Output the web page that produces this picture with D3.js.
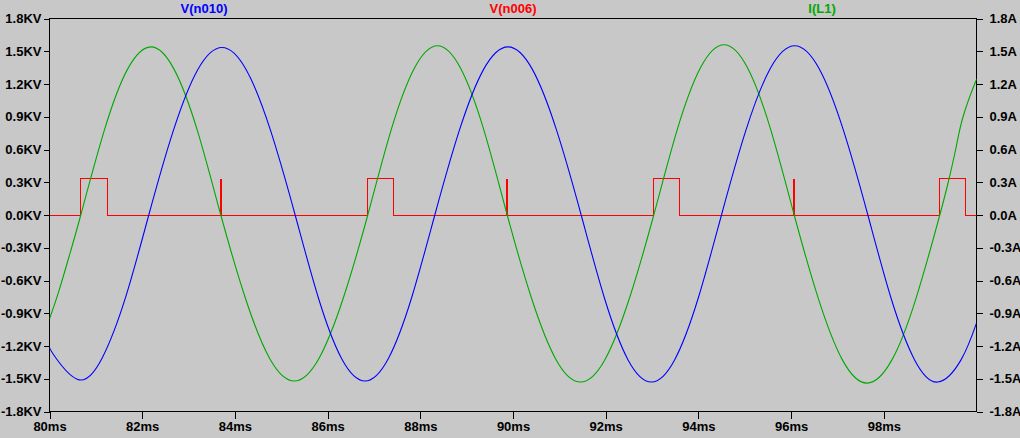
<!DOCTYPE html>
<html>
<head>
<meta charset="utf-8">
<script src="https://cdn.jsdelivr.net/npm/d3@7"></script>
<style>
  html, body { margin: 0; padding: 0; background: #c8c8c8; }
  svg { display: block; }
  .tick text, .title { font-family: "Liberation Sans", Arial, sans-serif; font-weight: bold; font-size: 13px; }
</style>
</head>
<body>
<svg id="chart" width="1020" height="438"></svg>
<script>
// ---- Data ----
const seriesNames = ["V(n010)", "V(n006)", "I(L1)"];
const xTicks = [80, 82, 84, 86, 88, 90, 92, 94, 96, 98];
const yTicks = [-1.8, -1.5, -1.2, -0.9, -0.6, -0.3, 0, 0.3, 0.6, 0.9, 1.2, 1.5, 1.8];

// V(n010) (KV) : time in ms
const blueTime = [80, 80.134, 80.637, 81.139, 81.641, 82.142,
  82.668, 83.195, 83.721, 84.247, 84.774, 85.300,
  85.802, 86.304, 86.807, 87.309, 87.811, 88.313,
  88.839, 89.366, 89.892, 90.418, 90.945, 91.471,
  91.976, 92.480, 92.985, 93.489, 93.994, 94.498,
  95.024, 95.551, 96.077, 96.603, 97.130, 97.656,
  98.159, 98.662, 99.166, 99.669, 100];
const blueValue = [-1.215, -1.308, -1.51, -1.308, -0.755, 0,
  0.768, 1.329, 1.535, 1.329, 0.768, 0,
  -0.76, -1.316, -1.52, -1.316, -0.76, 0,
  0.77, 1.334, 1.54, 1.334, 0.77, 0,
  -0.765, -1.325, -1.53, -1.325, -0.765, 0,
  0.775, 1.342, 1.55, 1.342, 0.775, 0,
  -0.765, -1.325, -1.53, -1.325, -0.99];

// I(L1) (A) : time in ms
const greenTime = [80, 80.2, 80.45, 80.675,
  81.179, 81.682, 82.186, 82.689, 83.193, 83.696,
  84.225, 84.753, 85.282, 85.810, 86.339, 86.867,
  87.368, 87.869, 88.371, 88.872, 89.374, 89.875,
  90.402, 90.929, 91.456, 91.983, 92.510, 93.037,
  93.542, 94.047, 94.552, 95.057, 95.562, 96.067,
  96.592, 97.116, 97.641, 98.166, 98.690, 99.208,
  99.39, 99.55, 99.71, 99.96, 100];
const greenValue = [-0.95, -0.70, -0.34, 0,
  0.77, 1.334, 1.54, 1.334, 0.77, 0,
  -0.76, -1.316, -1.52, -1.316, -0.76, 0,
  0.775, 1.342, 1.55, 1.342, 0.775, 0,
  -0.765, -1.325, -1.53, -1.325, -0.765, 0,
  0.78, 1.351, 1.56, 1.351, 0.78, 0,
  -0.77, -1.334, -1.54, -1.334, -0.77, 0,
  0.3, 0.6, 0.9, 1.2, 1.23];

// V(n006) (KV): rectangular pulses and narrow spikes
const pulseStart = [80.675, 86.867, 93.037, 99.208];
const pulseEnd   = [81.258, 87.428, 93.598, 99.769];
const spikeTime  = [83.696, 89.875, 96.067];
const pulseLevel = 0.333;

// ---- Drawing ----
const svg = d3.select("#chart");
const x = d3.scaleLinear().domain([80, 100]).range([49.5, 976.5]);
const y = d3.scaleLinear().domain([-1.8, 1.8]).range([411.5, 18.5]);

const colors = { blue: "#0000ff", red: "#ff0000", green: "#00a800" };

const fmtV = d => (Math.abs(d) < 1e-9 ? "0.0" : d.toFixed(1)) + "KV";
const fmtA = d => (Math.abs(d) < 1e-9 ? "0.0" : d.toFixed(1)) + "A";

const gL = svg.append("g").attr("transform", "translate(49.5,0)")
  .call(d3.axisLeft(y).tickValues(yTicks).tickFormat(fmtV).tickSize(6).tickSizeOuter(0).tickPadding(2));
const gR = svg.append("g").attr("transform", "translate(976.5,0)")
  .call(d3.axisRight(y).tickValues(yTicks).tickFormat(fmtA).tickSize(6).tickSizeOuter(0).tickPadding(7));
const gB = svg.append("g").attr("transform", "translate(0,411.5)")
  .call(d3.axisBottom(x).tickValues(xTicks).tickFormat(d => d + "ms").tickSize(7).tickSizeOuter(0).tickPadding(3));

[gL, gR, gB].forEach(g => {
  g.select(".domain").remove();
  g.selectAll(".tick line").attr("stroke", "#000").attr("shape-rendering", "crispEdges");
  g.selectAll(".tick text").attr("fill", "#000").style("font-size", "13px").style("font-weight", "bold")
    .style("font-family", "'Liberation Sans', Arial, sans-serif");
});

// frame
svg.append("rect")
  .attr("x", x(80)).attr("y", y(1.8))
  .attr("width", x(100) - x(80)).attr("height", y(-1.8) - y(1.8))
  .attr("fill", "none").attr("stroke", "#000").attr("shape-rendering", "crispEdges");

svg.append("clipPath").attr("id", "plotclip").append("rect")
  .attr("x", x(80)).attr("y", y(1.8))
  .attr("width", x(100) - x(80)).attr("height", y(-1.8) - y(1.8));

const plot = svg.append("g").attr("clip-path", "url(#plotclip)");

const line = d3.line().x(d => x(d[0])).y(d => y(d[1])).curve(d3.curveNatural);

// red step trace
const redPts = [[80, 0]];
pulseStart.forEach((s, i) => {
  redPts.push([s, 0], [s, pulseLevel], [pulseEnd[i], pulseLevel], [pulseEnd[i], 0]);
});
redPts.push([100, 0]);
const snap = v => Math.round(v - 0.5) + 0.5;
const redLine = d3.line().x(d => snap(x(d[0]))).y(d => snap(y(d[1])));
plot.append("path").attr("d", redLine(redPts))
  .attr("fill", "none").attr("stroke", colors.red).attr("stroke-width", 1)
  .attr("shape-rendering", "crispEdges");
plot.selectAll("line.spike").data(spikeTime).join("line")
  .attr("class", "spike")
  .attr("x1", d => Math.round(x(d))).attr("x2", d => Math.round(x(d)))
  .attr("y1", snap(y(0))).attr("y2", snap(y(pulseLevel)))
  .attr("stroke", colors.red).attr("stroke-width", 2).attr("shape-rendering", "crispEdges");

plot.append("path").attr("d", line(greenTime.map((t, i) => [t, greenValue[i]])))
  .attr("fill", "none").attr("stroke", colors.green).attr("stroke-width", 1.1);

plot.append("path").attr("d", line(blueTime.map((t, i) => [t, blueValue[i]])))
  .attr("fill", "none").attr("stroke", colors.blue).attr("stroke-width", 1.1);

// titles
const titleColors = [colors.blue, colors.red, colors.green];
const titleX = [1 / 6, 1 / 2, 5 / 6].map(f => x(80 + 20 * f));
svg.selectAll("text.title").data(seriesNames).join("text")
  .attr("class", "title")
  .attr("x", (d, i) => titleX[i]).attr("y", 13)
  .attr("text-anchor", "middle")
  .attr("fill", (d, i) => titleColors[i])
  .text(d => d);
</script>
</body>
</html>
